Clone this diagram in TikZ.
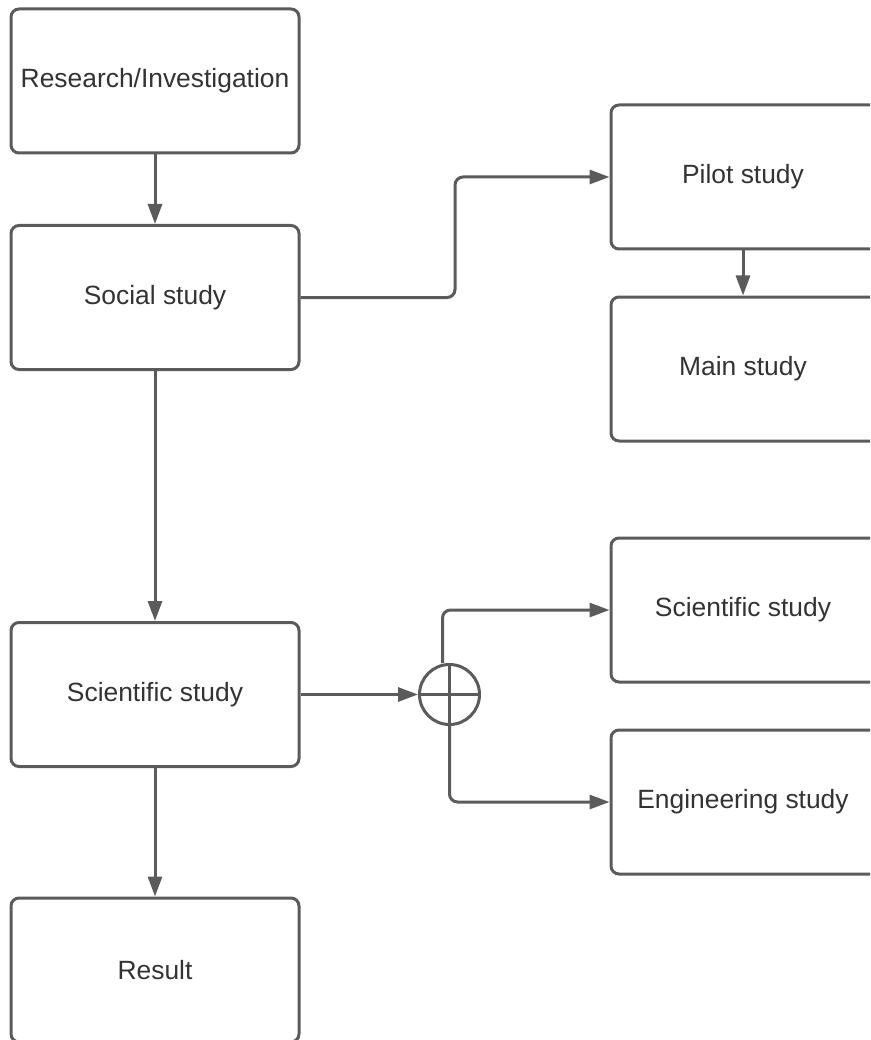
\documentclass[tikz,border=0pt]{standalone}
\usepackage{fontspec}
\setmainfont{Liberation Sans}
\usetikzlibrary{arrows.meta}
\definecolor{linegray}{HTML}{5B5B5B}
\definecolor{textgray}{HTML}{333333}
\begin{document}
\begin{tikzpicture}[x=1pt,y=-1pt,
  boxfont/.style={text=textgray,font=\fontsize{26.4}{30}\selectfont},
  box/.style={draw=linegray,line width=3pt,rounded corners=8pt,fill=white,
    minimum height=144pt,inner sep=0pt,boxfont},
  lbox/.style={box,minimum width=288pt},
  rbox/.style={box,minimum width=288pt,label={[boxfont,xshift=-12pt]center:#1}},
  conn/.style={draw=linegray,line width=3pt,rounded corners=8pt,
    -{Triangle[length=20pt,width=14pt]}},
  plain/.style={draw=linegray,line width=3pt}]
\useasboundingbox (0,0) rectangle (870,1040);
\clip (0,0) rectangle (870,1040);
\fill[white] (0,0) rectangle (870,1040);
\node[lbox] (res) at (155,81) {Research/Investigation};
\node[lbox] (social) at (155,297.5) {Social study};
\node[lbox] (sciL) at (155,694.5) {Scientific study};
\node[lbox] (result) at (155,970) {Result};
\node[rbox=Pilot study] (pilot) at (755,177) {};
\node[rbox=Main study] (main) at (755,369) {};
\node[rbox=Scientific study] (sciR) at (755,610) {};
\node[rbox=Engineering study] (eng) at (755,802) {};
\node[circle,draw=linegray,line width=3pt,minimum size=60pt,inner sep=0pt] (j) at (449.5,694.5) {};
\draw[plain] (j.north) -- (j.south);
\draw[plain] (j.west) -- (j.east);
\draw[conn] (res) -- (social);
\draw[conn] (social) -- (sciL);
\draw[conn] (sciL) -- (result);
\draw[conn] ([xshift=-12pt]pilot.south) -- ([xshift=-12pt]main.north);
\draw[conn] (social.east) -- (455,297.5) |- (pilot.west);
\draw[conn] (sciL.east) -- (j.west);
\draw[conn] ([xshift=-7pt]j.north) |- (sciR.west);
\draw[conn] (j.south) |- (eng.west);
\end{tikzpicture}
\end{document}
